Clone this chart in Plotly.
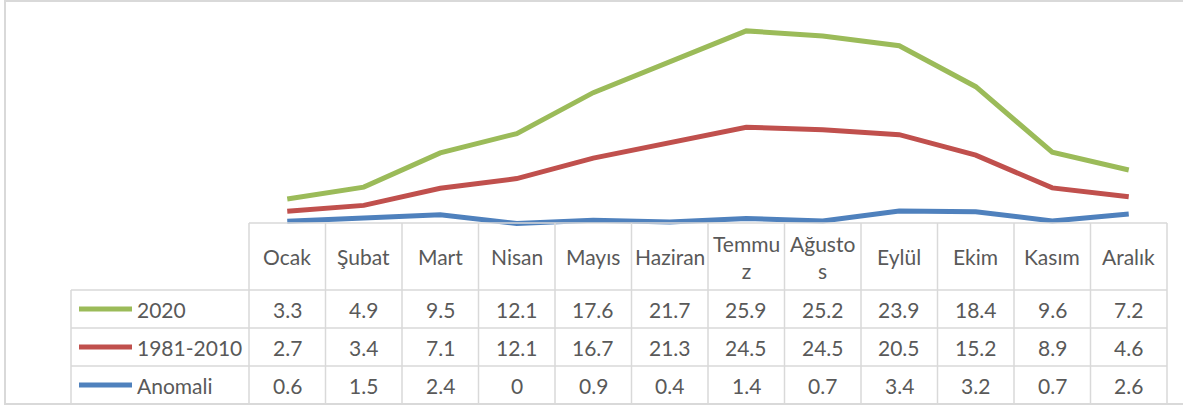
import plotly.graph_objects as go

# ---------------- data ----------------
months = ["Ocak", "Şubat", "Mart", "Nisan", "Mayıs", "Haziran", "Temmuz",
          "Ağustos", "Eylül", "Ekim", "Kasım", "Aralık"]
header_labels = ["Ocak", "Şubat", "Mart", "Nisan", "Mayıs", "Haziran", "Temmu<br>z",
                 "Ağusto<br>s", "Eylül", "Ekim", "Kasım", "Aralık"]
series_names = ["2020", "1981-2010", "Anomali"]
values_2020 = [3.3, 4.9, 9.5, 12.1, 17.6, 21.7, 25.9, 25.2, 23.9, 18.4, 9.6, 7.2]
values_1981_2010 = [2.7, 3.4, 7.1, 12.1, 16.7, 21.3, 24.5, 24.5, 20.5, 15.2, 8.9, 4.6]
values_anomali = [0.6, 1.5, 2.4, 0, 0.9, 0.4, 1.4, 0.7, 3.4, 3.2, 0.7, 2.6]

series_values = {"2020": values_2020, "1981-2010": values_1981_2010, "Anomali": values_anomali}
colors = {"2020": "#9BBB59", "1981-2010": "#C0504D", "Anomali": "#4F81BD"}

# ---------------- geometry (pixels) ----------------
W, H = 1183, 405
TX0 = 249          # table first data column left
CW = 76.5          # column width
LX = 71            # legend column left
T_TOP = 223
T_HDR = 290
RH = 38
T_END = TX0 + CW * len(months)
GRID = "#d9d9d9"
TXT = "#595959"
FONT = "Lato"
FS = 21


def px(x):
    return x / W


def py(y):
    return 1 - y / H


fig = go.Figure()

# stacked lines (Excel stacked line chart: Anomali bottom)
for name in ["Anomali", "1981-2010", "2020"]:
    fig.add_trace(go.Scatter(
        x=months, y=series_values[name], name=name, mode="lines",
        stackgroup="one", fill="none",
        line=dict(color=colors[name], width=5),
        showlegend=False, hoverinfo="skip"))

# axis calibration: zero at pixel 223.6, 60 at pixel 0.4, plot area extends to 240
zero_px, top_px, bot_px = 223.6, 0.4, 240
k = (zero_px - top_px) / 60.0
ymin = -(bot_px - zero_px) / k

shapes = []
# chart border
shapes.append(dict(type="rect", xref="paper", yref="paper",
                   x0=px(5), x1=px(W + 10), y0=py(404), y1=py(1),
                   line=dict(color=GRID, width=2)))


def hline(y, x0, x1):
    shapes.append(dict(type="line", xref="paper", yref="paper",
                       x0=px(x0), x1=px(x1), y0=py(y), y1=py(y),
                       line=dict(color=GRID, width=1.5)))


def vline(x, y0, y1):
    shapes.append(dict(type="line", xref="paper", yref="paper",
                       x0=px(x), x1=px(x), y0=py(y0), y1=py(y1),
                       line=dict(color=GRID, width=1.5)))


n_rows = len(series_names)
hline(T_TOP, TX0, T_END)
for r in range(n_rows + 1):
    hline(T_HDR + r * RH, LX, T_END)
vline(LX, T_HDR, T_HDR + n_rows * RH)
for c in range(len(months) + 1):
    vline(TX0 + c * CW, T_TOP, T_HDR + n_rows * RH)

annotations = []
for c, lab in enumerate(header_labels):
    annotations.append(dict(xref="paper", yref="paper", x=px(TX0 + (c + 0.5) * CW),
                            y=py((T_TOP + T_HDR) / 2), text=lab, showarrow=False,
                            xanchor="center", yanchor="middle",
                            font=dict(family=FONT, size=FS, color=TXT)))

for r, name in enumerate(series_names):
    yc = T_HDR + (r + 0.5) * RH
    # legend key
    shapes.append(dict(type="line", xref="paper", yref="paper",
                       x0=px(79), x1=px(132), y0=py(yc), y1=py(yc),
                       line=dict(color=colors[name], width=5)))
    annotations.append(dict(xref="paper", yref="paper", x=px(135), y=py(yc),
                            text=name, showarrow=False, xanchor="left", yanchor="middle",
                            font=dict(family=FONT, size=FS, color=TXT)))
    for c, v in enumerate(series_values[name]):
        annotations.append(dict(xref="paper", yref="paper", x=px(TX0 + (c + 0.5) * CW),
                                y=py(yc), text=f"{v:g}", showarrow=False,
                                xanchor="center", yanchor="middle",
                                font=dict(family=FONT, size=FS, color=TXT)))

fig.update_layout(
    width=W, height=H, autosize=False,
    margin=dict(l=0, r=0, t=0, b=0),
    paper_bgcolor="white", plot_bgcolor="rgba(0,0,0,0)",
    xaxis=dict(domain=[px(TX0), px(T_END)], range=[-0.5, len(months) - 0.5],
               type="category", visible=False, showgrid=False, zeroline=False),
    yaxis=dict(domain=[py(bot_px), py(top_px)], range=[ymin, 60],
               visible=False, showgrid=False, zeroline=False),
    shapes=shapes, annotations=annotations,
    font=dict(family=FONT, color=TXT),
)

fig.write_html("out.html", config={"displayModeBar": False},
               post_script="document.body.style.margin='0';")
